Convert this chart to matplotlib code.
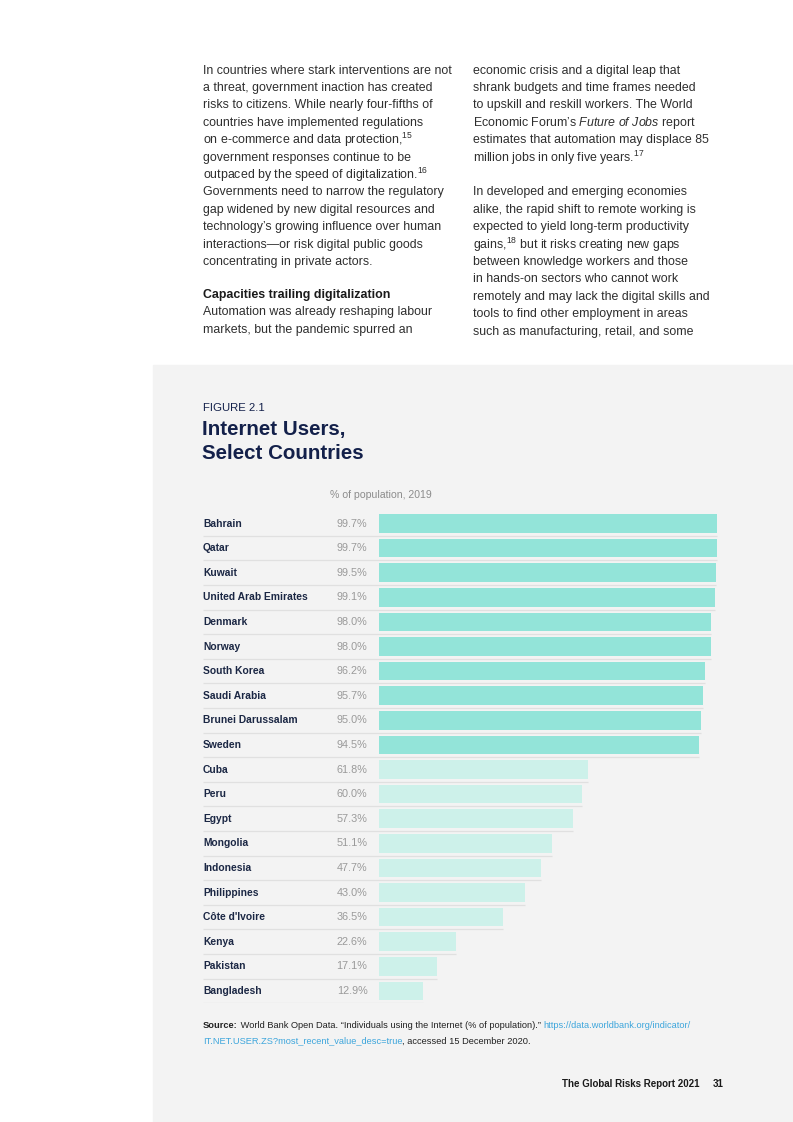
import matplotlib.pyplot as plt
from matplotlib.patches import Rectangle

plt.rcParams['font.family'] = ['Liberation Sans', 'DejaVu Sans']
plt.rcParams['mathtext.fontset'] = 'custom'
plt.rcParams['mathtext.rm'] = 'Liberation Sans'
plt.rcParams['mathtext.it'] = 'Liberation Sans:italic'
plt.rcParams['mathtext.bf'] = 'Liberation Sans:bold'

# data
countries = ['Bahrain', 'Qatar', 'Kuwait', 'United Arab Emirates', 'Denmark',
             'Norway', 'South Korea', 'Saudi Arabia', 'Brunei Darussalam', 'Sweden',
             'Cuba', 'Peru', 'Egypt', 'Mongolia', 'Indonesia',
             'Philippines', "Côte d'Ivoire", 'Kenya', 'Pakistan', 'Bangladesh']
values = [99.7, 99.7, 99.5, 99.1, 98.0, 98.0, 96.2, 95.7, 95.0, 94.5,
          61.8, 60.0, 57.3, 51.1, 47.7, 43.0, 36.5, 22.6, 17.1, 12.9]

W, H = 793, 1122
fig = plt.figure(figsize=(W / 100, H / 100), dpi=100)

# page overlay in pixel coords
page = fig.add_axes([0, 0, 1, 1])
page.set_xlim(0, W)
page.set_ylim(H, 0)
page.axis('off')
page.add_patch(Rectangle((153, 365), W - 153, H - 365, color='#f3f3f3', zorder=0))

body_color = '#2e2e2e'
fs_body = 8.95
left_lines = [
    'In countries where stark interventions are not',
    'a threat, government inaction has created',
    'risks to citizens. While nearly four-fifths of',
    'countries have implemented regulations',
    'on e-commerce and data protection,$^{\\mathrm{15}}$',
    'government responses continue to be',
    'outpaced by the speed of digitalization.$^{\\mathrm{16}}$',
    'Governments need to narrow the regulatory',
    'gap widened by new digital resources and',
    'technology’s growing influence over human',
    'interactions—or risk digital public goods',
    'concentrating in private actors.',
]
right_lines = [
    'economic crisis and a digital leap that',
    'shrank budgets and time frames needed',
    'to upskill and reskill workers. The World',
    'Economic Forum’s $\\mathit{Future\\ of\\ Jobs}$ report',
    'estimates that automation may displace 85',
    'million jobs in only five years.$^{\\mathrm{17}}$',
    '',
    'In developed and emerging economies',
    'alike, the rapid shift to remote working is',
    'expected to yield long-term productivity',
    'gains,$^{\\mathrm{18}}$ but it risks creating new gaps',
    'between knowledge workers and those',
    'in hands-on sectors who cannot work',
    'remotely and may lack the digital skills and',
    'tools to find other employment in areas',
    'such as manufacturing, retail, and some',
]
step = 17.4
for i, line in enumerate(left_lines):
    page.text(203, 70.5 + i * step, line, fontsize=fs_body, color=body_color, va='center')
page.text(203, 294.5, 'Capacities trailing digitalization', fontsize=fs_body,
          color='#1a1a1a', weight='bold', va='center')
page.text(203, 312, 'Automation was already reshaping labour', fontsize=fs_body,
          color=body_color, va='center')
page.text(203, 329.5, 'markets, but the pandemic spurred an', fontsize=fs_body,
          color=body_color, va='center')
for i, line in enumerate(right_lines):
    if line:
        page.text(473, 70.5 + i * step, line, fontsize=fs_body, color=body_color, va='center')

# figure heading
navy = '#13204a'
page.text(203, 408, 'FIGURE 2.1', fontsize=8.2, color=navy, va='center')
page.text(202, 429, 'Internet Users,', fontsize=14.8, color=navy, weight='bold', va='center')
page.text(202, 453, 'Select Countries', fontsize=14.8, color=navy, weight='bold', va='center')
page.text(330, 495, '% of population, 2019', fontsize=7.6, color='#8c8c8c', va='center')

# bar chart axes: x 0..100 maps to px 379..717.7
x0_px, x100_px = 379.3, 717.7
px_per = (x100_px - x0_px) / 100
left_data = -(x0_px - 203) / px_per
y_top, y_bot = 523.5 - 12.25, 991 + 12.25
ax = fig.add_axes([203 / W, 1 - y_bot / H, (x100_px - 203) / W, (y_bot - y_top) / H])
ax.set_xlim(left_data, 100)
ax.set_ylim(len(countries) - 0.5, -0.5)
ax.axis('off')

ypos = list(range(len(countries)))
colors = ['#93e4d9' if v >= 90 else '#cdf1ea' for v in values]
ax.barh(ypos, values, height=0.76, color=colors, clip_on=False)
ax.hlines([y + 0.5 for y in ypos], left_data, values, color='#e0e0e0', lw=0.9)
for y, c, v in zip(ypos, countries, values):
    ax.text(left_data, y, c, fontsize=7.4, weight='bold', color='#1b2744', va='center')
    ax.text(-3.5, y, f'{v:.1f}%', fontsize=7.8, color='#9a9a9a', va='center', ha='right')

# source
fs_src = 6.7
t1 = page.text(203, 1026, 'Source:', fontsize=fs_src, weight='bold', color='#222222', va='center')
src1 = ' World Bank Open Data. “Individuals using the Internet (% of population).” '
t2 = page.annotate(src1, xy=(1, 0.5), xycoords=t1, fontsize=fs_src, color='#222222',
                   va='center')
page.annotate('https://data.worldbank.org/indicator/', xy=(1, 0.5), xycoords=t2,
              fontsize=fs_src, color='#3ea6dc', va='center')
t3 = page.text(203, 1041, 'IT.NET.USER.ZS?most_recent_value_desc=true', fontsize=fs_src,
               color='#3ea6dc', va='center')
page.annotate(', accessed 15 December 2020.', xy=(1, 0.5), xycoords=t3,
              fontsize=fs_src, color='#222222', va='center')

# footer
page.text(699, 1084, 'The Global Risks Report 2021', fontsize=7.0, weight='bold',
          color='#1a1a1a', va='center', ha='right')
page.text(724, 1084, '31', fontsize=7.0, weight='bold', color='#1a1a1a', va='center', ha='right')

plt.savefig('out.png', dpi=100, facecolor='white')
